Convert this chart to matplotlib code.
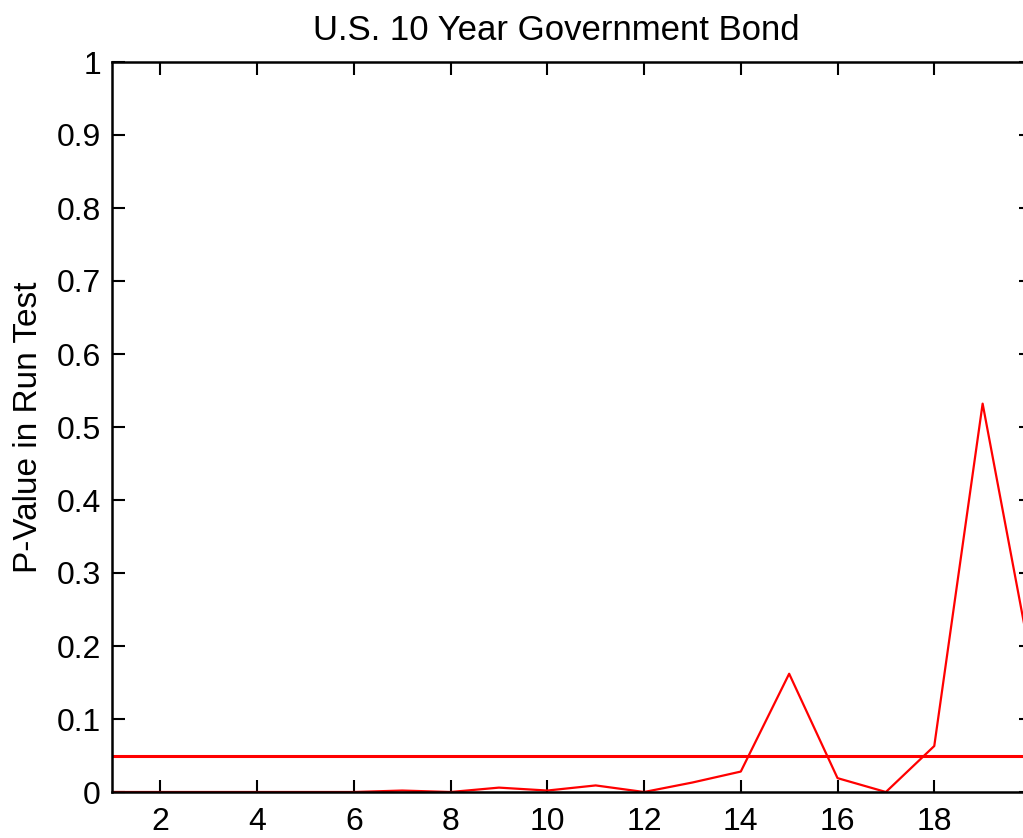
import matplotlib.pyplot as plt
import numpy as np

# p-values from the run test, lags 1..20
lags = np.arange(1, 21)
p_values = [0, 0, 0, 0, 0, 0, 0.002, 0, 0.006, 0.002,
            0.009, 0, 0.013, 0.028, 0.162, 0.019, 0, 0.063, 0.532, 0.18]
alpha = 0.05

plt.rcParams['font.family'] = ['Liberation Sans', 'DejaVu Sans']
plt.rcParams['font.size'] = 23

fig = plt.figure(figsize=(10.23, 8.38), dpi=100)
# axes run past the right edge like the cropped original
ax = fig.add_axes([112 / 1023, 46 / 838, 919 / 1023, 730 / 838])

ax.plot(lags, p_values, color='red', lw=1.6)
ax.axhline(alpha, color='red', lw=2.2)

ax.set_xlim(1, 20)
ax.set_ylim(0, 1)
ax.set_xticks(np.arange(2, 20, 2))
ax.set_yticks(np.arange(0, 1.01, 0.1))
ax.set_yticklabels(['0', '0.1', '0.2', '0.3', '0.4', '0.5', '0.6', '0.7', '0.8', '0.9', '1'])
ax.tick_params(direction='in', length=9, width=1.5, top=True, right=True)
ax.tick_params(axis='x', pad=11)
ax.tick_params(axis='y', pad=8)
for s in ax.spines.values():
    s.set_linewidth(1.8)

ax.set_title('U.S. 10 Year Government Bond', fontsize=25, x=0.484, pad=16)
ax.set_ylabel('P-Value in Run Test', fontsize=24, labelpad=9)

fig.savefig('out.png', dpi=100)
